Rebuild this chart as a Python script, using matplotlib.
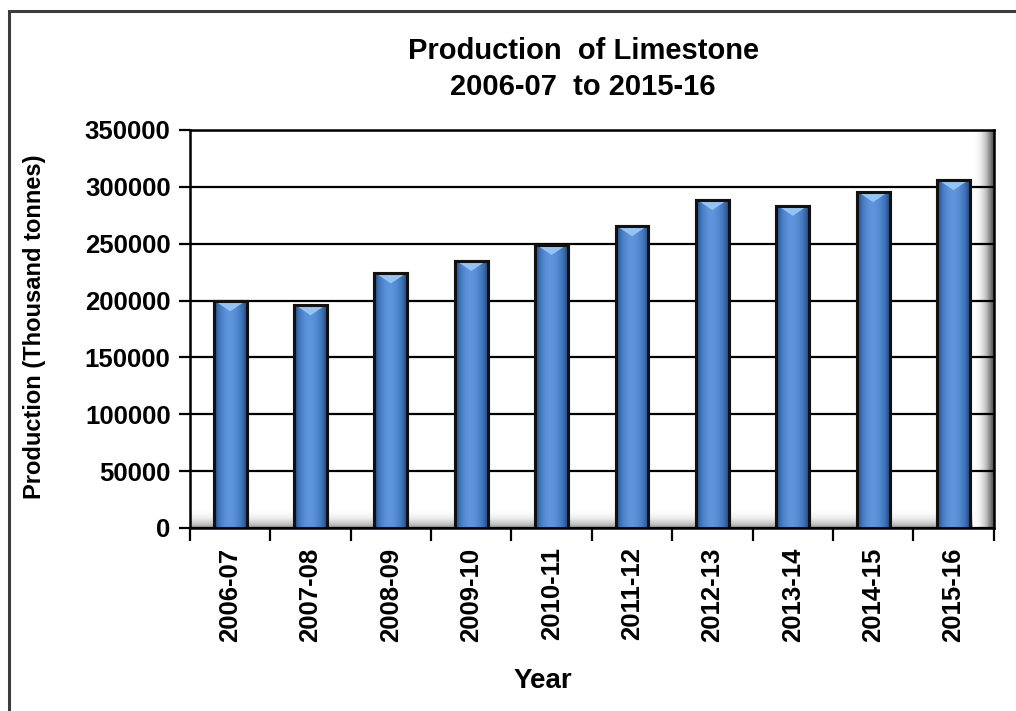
import numpy as np
import matplotlib.pyplot as plt
from matplotlib.patches import Rectangle, Polygon
from matplotlib.colors import LinearSegmentedColormap

plt.rcParams['font.family'] = ['Liberation Sans', 'DejaVu Sans']
plt.rcParams['font.weight'] = 'bold'

# datos
years = ['2006-07', '2007-08', '2008-09', '2009-10', '2010-11',
         '2011-12', '2012-13', '2013-14', '2014-15', '2015-16']
production = [199500, 196000, 224000, 235000, 249000,
              265500, 288500, 283500, 295500, 306000]
y_ticks = [0, 50000, 100000, 150000, 200000, 250000, 300000, 350000]

fig = plt.figure(figsize=(10.16, 7.11), dpi=100)
ax = fig.add_axes([0.187, 0.2574, 0.791, 0.5598])
ax.set_xlim(-0.5, len(years) - 0.5)
ax.set_ylim(0, 350000)

# sombra de pared derecha y piso
grad = np.linspace(0, 1, 64).reshape(1, -1)
ax.imshow(grad ** 1.6, cmap='Greys', vmin=0, vmax=1.3, aspect='auto',
          extent=[len(years) - 0.76, len(years) - 0.5, 0, 350000], zorder=0.5)
ax.imshow(grad.T ** 1.6, cmap='Greys', vmin=0, vmax=2.0, aspect='auto',
          extent=[-0.5, len(years) - 0.76, 0, 16000], zorder=0.4)

for y in y_ticks:
    ax.axhline(y, color='black', lw=1.6, zorder=1)

bars = ax.bar(range(len(years)), production, width=0.41, color='#4F86CF',
              edgecolor='#111111', linewidth=2.2, zorder=2)

# degradado horizontal en cada barra
shade = np.array([0.0, 0.4, 0.7, 0.9, 1.0, 0.97, 0.85, 0.65, 0.4, 0.1])
shade = np.interp(np.linspace(0, 9, 80), np.arange(10), shade).reshape(1, -1)
cmap = LinearSegmentedColormap.from_list('b', ['#1F3F6E', '#3E74BA', '#5E95DC'])
for b in bars:
    x0, w, h = b.get_x(), b.get_width(), b.get_height()
    im = ax.imshow(shade, cmap=cmap, vmin=0, vmax=1, aspect='auto',
                   extent=[x0, x0 + w, 0, h], zorder=2.1)
    im.set_clip_path(b)
    cap = Polygon([[x0 + w * 0.12, h - 1500], [x0 + w * 0.88, h - 1500],
                   [x0 + w * 0.5, h - 9000]], closed=True,
                  facecolor='#93C3F7', edgecolor='none', zorder=2.2)
    ax.add_patch(cap)
    ax.add_patch(Rectangle((x0, 0), w, h, fill=False, edgecolor='#111111',
                           lw=2.2, zorder=2.3))

ax.set_yticks(y_ticks)
ax.set_yticklabels([str(v) for v in y_ticks], fontsize=18.5, fontweight='bold')
ax.set_xticks(range(len(years)))
ax.set_xticklabels(years, rotation=90, fontsize=18.5, fontweight='bold')
ax.set_xticks(np.arange(-0.5, len(years)), minor=True)
ax.tick_params(axis='x', which='major', length=0, pad=14)
ax.tick_params(axis='x', which='minor', length=9, width=1.6, direction='out')
ax.tick_params(axis='y', length=8, width=1.6, direction='out', pad=6)
for s in ax.spines.values():
    s.set_linewidth(1.8)
    s.set_color('black')
    s.set_zorder(3)

ax.set_ylabel('Production (Thousand tonnes)', fontsize=17, fontweight='bold')
ax.yaxis.set_label_coords(-0.179, 0.505)
ax.set_xlabel('Year', fontsize=20, fontweight='bold')
ax.xaxis.set_label_coords(0.439, -0.352)

fig.text(0.574, 0.903, 'Production  of Limestone\n2006-07  to 2015-16', ha='center',
         va='center', fontsize=21, fontweight='bold', linespacing=1.35)

# marco exterior
fig.patches.append(Rectangle((8.5 / 1016, -0.05), 1.2, 1.05 - 11.5 / 711,
                             transform=fig.transFigure, fill=False,
                             edgecolor='#3C3C3C', lw=2.2))

fig.savefig('out.png', dpi=100)
